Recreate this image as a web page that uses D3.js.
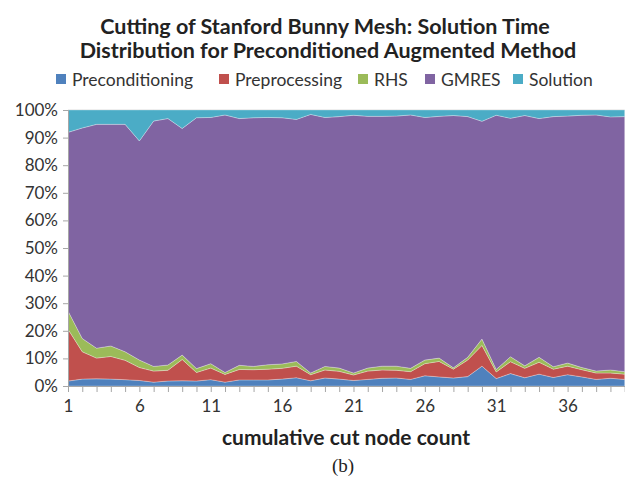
<!DOCTYPE html>
<html>
<head>
<meta charset="utf-8">
<script src="https://cdn.jsdelivr.net/npm/d3@7"></script>
<style>
  body { margin: 0; background: #fff; }
  svg { display: block; }
</style>
</head>
<body>
<div id="chart"></div>
<script>
const w = 625;
const h = 491;

// cut node count 1..40
const nodes = d3.range(1, 41);
const seriesNames = ["Preconditioning", "Preprocessing", "RHS", "GMRES", "Solution"];
const colors = ["#4F81BD", "#C0504D", "#9BBB59", "#8064A2", "#4BACC6"];

// percent of solution time per stage
const preconditioning = [1.8,2.5,2.6,2.5,2.3,2.0,1.4,1.8,1.9,1.8,2.3,1.4,2.2,2.2,2.2,2.5,3.0,1.9,2.9,2.5,
  2.0,2.4,2.8,2.9,2.4,3.7,3.3,2.9,3.4,7.2,2.7,4.5,3.0,4.3,3.1,4.1,3.3,2.4,2.8,2.4];
const preprocessing = [18.8,9.9,7.5,8.2,7.0,4.7,4.0,3.9,7.7,3.1,4.2,2.8,3.8,3.7,3.9,3.9,4.2,2.2,2.9,2.8,
  2.0,3.0,3.0,2.8,2.8,4.4,5.6,3.2,6.0,7.5,2.4,4.3,3.4,4.3,3.0,3.1,2.6,2.3,1.9,1.9];
const rhs = [6.6,4.8,3.6,3.8,3.1,2.7,1.7,1.9,1.6,1.4,1.6,0.7,1.5,1.2,1.6,1.6,1.7,0.6,1.3,1.2,
  0.7,1.1,1.4,1.5,1.2,1.3,1.2,0.5,1.0,2.3,0.9,1.8,0.9,1.8,0.9,1.1,0.8,0.7,1.1,0.9];
const gmres = [64.7,76.3,81.1,80.3,82.4,79.4,88.9,89.3,82.1,90.9,89.2,93.3,89.4,90.1,89.6,89.2,87.7,93.7,90.2,91.1,
  93.4,91.2,90.5,90.6,91.8,87.9,87.6,91.4,87.2,78.9,92.1,86.4,90.7,86.5,90.6,89.5,91.4,92.8,91.7,92.4];
const solution = [8.1,6.5,5.2,5.2,5.2,11.2,4.0,3.1,6.7,2.8,2.7,1.8,3.1,2.8,2.7,2.8,3.4,1.6,2.7,2.4,
  1.9,2.3,2.3,2.2,1.8,2.7,2.3,2.0,2.4,4.1,1.9,3.0,2.0,3.1,2.4,2.2,1.9,1.8,2.5,2.4];
const yTicks = [0, 10, 20, 30, 40, 50, 60, 70, 80, 90, 100];

const table = nodes.map((n, i) => ({
  n: n,
  Preconditioning: preconditioning[i],
  Preprocessing: preprocessing[i],
  RHS: rhs[i],
  GMRES: gmres[i],
  Solution: solution[i]
}));

const stack = d3.stack().keys(seriesNames).offset(d3.stackOffsetExpand);
const layers = stack(table);

const plotLeft = 68, plotRight = 624.7, plotTop = 110, plotBottom = 386;
const font = "Lato, 'Open Sans', sans-serif";

const svg = d3.select("#chart").append("svg").attr("width", w).attr("height", h);

const x = d3.scaleLinear().domain([1, 40]).range([plotLeft, plotRight]);
const y = d3.scaleLinear().domain([0, 1]).range([plotBottom, plotTop]);

// title
const title = svg.append("text")
  .attr("text-anchor", "middle")
  .attr("font-family", font)
  .attr("font-weight", "bold")
  .attr("font-size", 21.5)
  .attr("fill", "#222");
title.append("tspan").attr("x", 325).attr("y", 34).text("Cutting of Stanford Bunny Mesh: Solution Time");
title.append("tspan").attr("x", 328).attr("y", 58).text("Distribution for Preconditioned Augmented Method");

// legend
const legendX = [56, 219, 358, 425, 513];
const legend = svg.append("g").attr("font-family", font).attr("font-size", 17.5);
seriesNames.forEach((s, i) => {
  legend.append("rect").attr("x", legendX[i]).attr("y", 74).attr("width", 10).attr("height", 10).attr("fill", colors[i]);
  legend.append("text").attr("x", legendX[i] + 16).attr("y", 85.5).attr("fill", "#333").text(s);
});

// areas
const area = d3.area()
  .x((d) => x(d.data.n))
  .y0((d) => y(d[0]))
  .y1((d) => y(d[1]));

svg.append("line").attr("x1", plotLeft).attr("x2", plotRight).attr("y1", plotTop).attr("y2", plotTop)
  .attr("stroke", "#d9d9d9");

svg.selectAll("path.layer")
  .data(layers)
  .enter()
  .append("path")
  .attr("class", "layer")
  .attr("d", area)
  .attr("fill", (d, i) => colors[i])
  .attr("stroke", "rgba(255,255,255,0.35)")
  .attr("stroke-width", 0.8);

// y axis
const yAxis = d3.axisLeft(y).tickValues(yTicks.map((t) => t / 100)).tickFormat((d) => Math.round(d * 100) + "%").tickSize(5).tickPadding(5);
const gy = svg.append("g").attr("transform", `translate(${plotLeft},0)`).call(yAxis);
gy.select(".domain").attr("stroke", "#a6a6a6");
gy.selectAll(".tick line").attr("stroke", "#a6a6a6");
gy.selectAll(".tick text").attr("font-family", font).attr("font-size", 17).attr("fill", "#333");

// x axis
const xAxis = d3.axisBottom(x).tickValues(nodes).tickFormat((d) => ((d - 1) % 5 === 0 ? d : "")).tickSize(6).tickSizeOuter(0).tickPadding(8);
const gx = svg.append("g").attr("transform", `translate(0,${plotBottom})`).call(xAxis);
gx.select(".domain").attr("stroke", "#a6a6a6");
gx.selectAll(".tick line").attr("stroke", "#a6a6a6");
gx.selectAll(".tick text").attr("font-family", font).attr("font-size", 17).attr("fill", "#333");

svg.append("text")
  .attr("x", 346).attr("y", 445)
  .attr("text-anchor", "middle")
  .attr("font-family", font)
  .attr("font-weight", "bold")
  .attr("font-size", 21)
  .attr("fill", "#222")
  .text("cumulative cut node count");

svg.append("text")
  .attr("x", 343).attr("y", 472)
  .attr("text-anchor", "middle")
  .attr("font-family", "'Liberation Serif', serif")
  .attr("font-size", 19)
  .attr("fill", "#222")
  .text("(b)");
</script>
</body>
</html>
